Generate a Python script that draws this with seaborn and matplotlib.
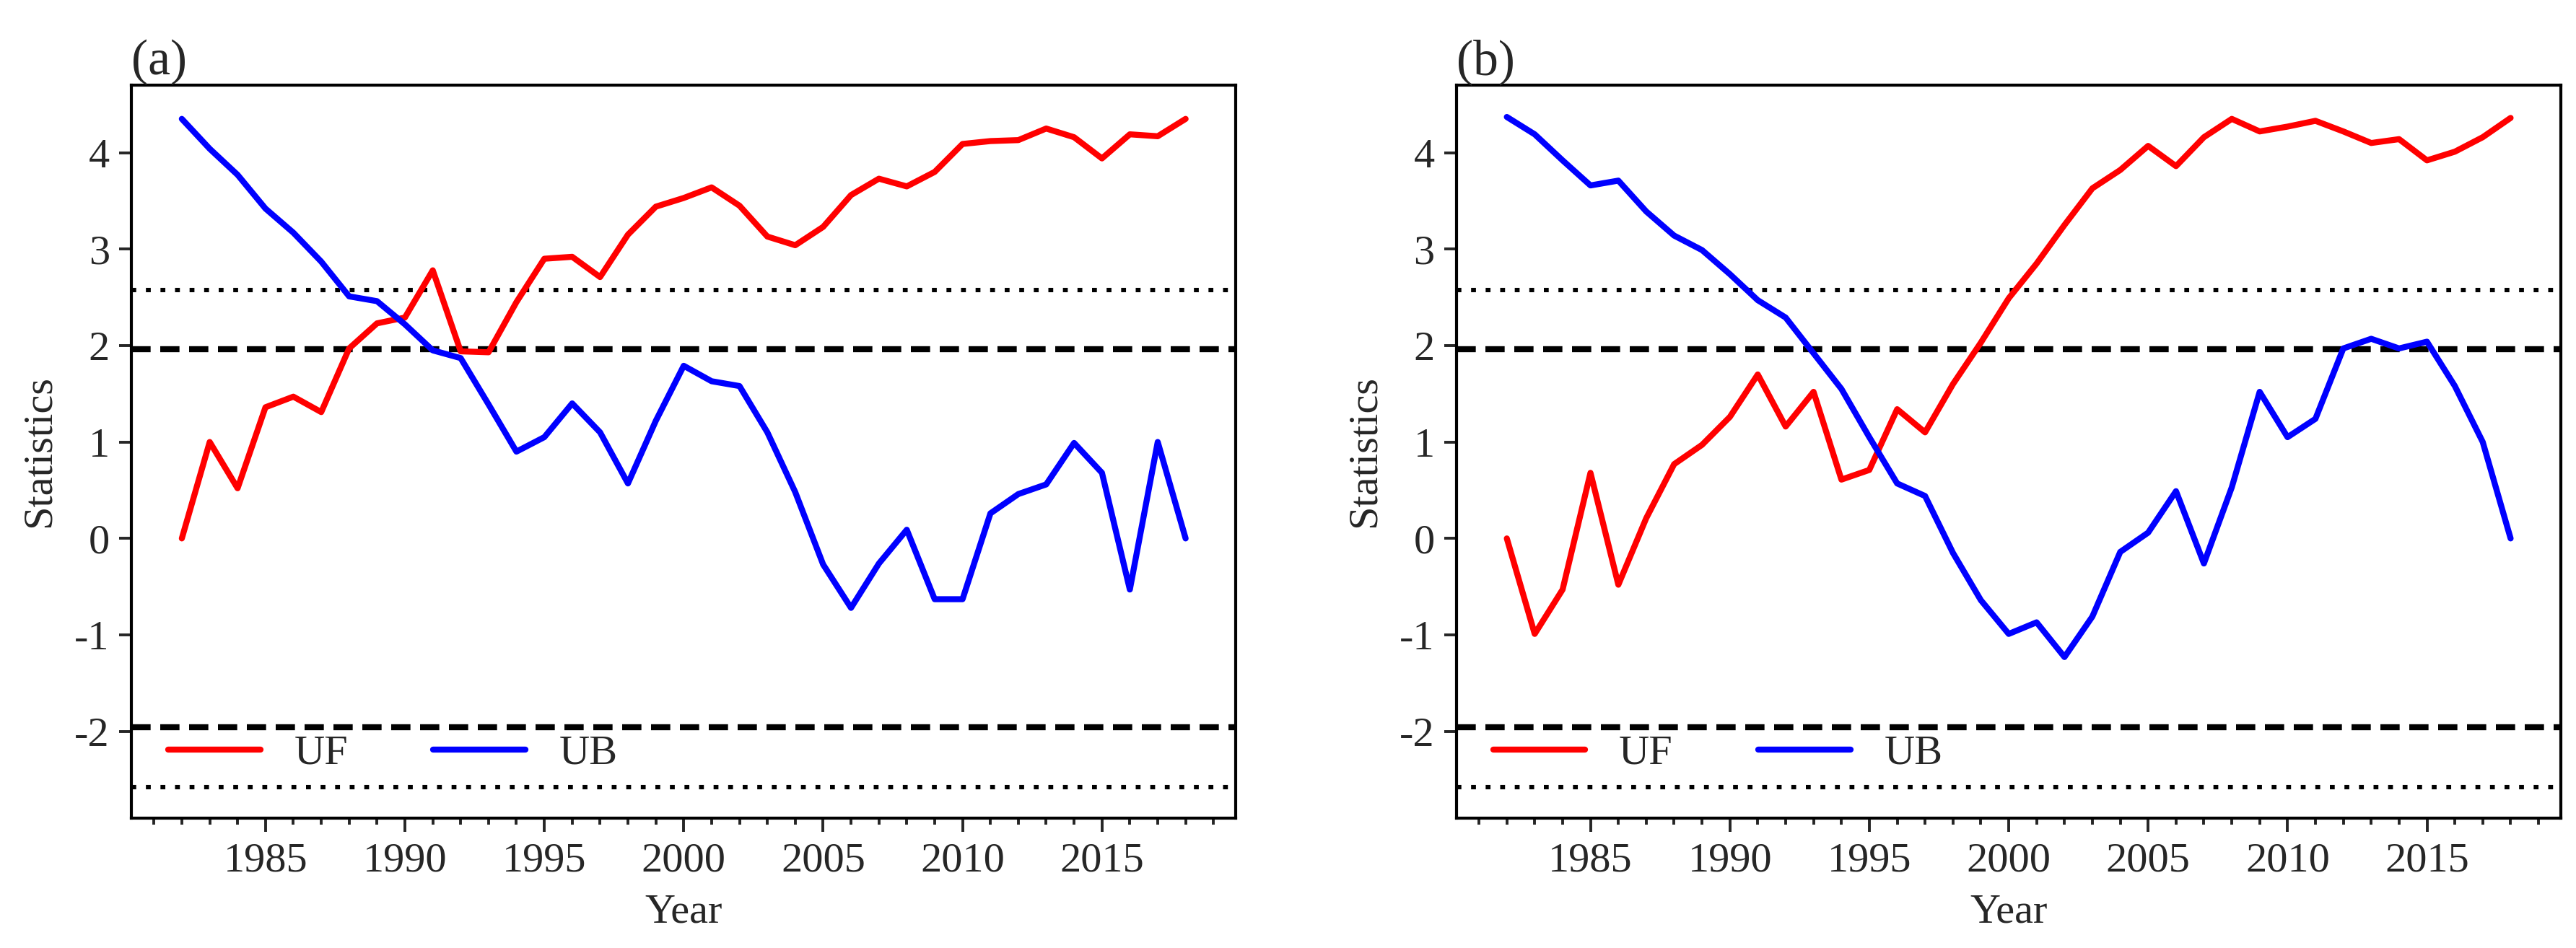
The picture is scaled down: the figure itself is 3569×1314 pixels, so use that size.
import numpy as np
import pandas as pd
import seaborn as sns
import matplotlib.pyplot as plt
from matplotlib.ticker import MultipleLocator

# Mann-Kendall sequential statistics
years = np.arange(1982, 2019)

uf_a = [0.00, 1.00, 0.52, 1.36, 1.47, 1.31, 1.97, 2.23, 2.29, 2.78,
        1.94, 1.93, 2.45, 2.90, 2.92, 2.71, 3.15, 3.44, 3.53, 3.64,
        3.45, 3.13, 3.04, 3.23, 3.56, 3.73, 3.65, 3.80, 4.09, 4.12,
        4.13, 4.25, 4.16, 3.94, 4.19, 4.17, 4.35]
ub_a = [4.35, 4.04, 3.77, 3.42, 3.17, 2.87, 2.51, 2.46, 2.22, 1.95,
        1.87, 1.39, 0.90, 1.05, 1.40, 1.10, 0.57, 1.22, 1.79, 1.63,
        1.58, 1.10, 0.48, -0.27, -0.72, -0.26, 0.09, -0.63, -0.63, 0.26,
        0.46, 0.56, 0.99, 0.68, -0.53, 1.00, 0.00]

uf_b = [0.00, -0.99, -0.53, 0.68, -0.48, 0.21, 0.77, 0.97, 1.26, 1.70,
        1.16, 1.52, 0.61, 0.71, 1.34, 1.10, 1.60, 2.03, 2.49, 2.85,
        3.25, 3.63, 3.82, 4.07, 3.86, 4.16, 4.35, 4.22, 4.27, 4.33,
        4.22, 4.10, 4.14, 3.92, 4.01, 4.16, 4.36]
ub_b = [4.37, 4.19, 3.92, 3.66, 3.71, 3.39, 3.14, 2.99, 2.74, 2.47,
        2.29, 1.92, 1.55, 1.05, 0.57, 0.44, -0.15, -0.64, -0.99, -0.87,
        -1.23, -0.81, -0.14, 0.06, 0.49, -0.26, 0.53, 1.52, 1.05, 1.24,
        1.97, 2.07, 1.97, 2.04, 1.58, 1.00, 0.00]

crit_95 = 1.96
crit_99 = 2.576
panel_labels = ['(a)', '(b)']

sns.set_style('ticks')
plt.rcParams['font.family'] = ['Liberation Serif', 'DejaVu Serif']
plt.rcParams['axes.unicode_minus'] = False
fs = 21

fig, axes = plt.subplots(1, 2, figsize=(17.845, 6.57), dpi=200)
fig.subplots_adjust(left=0.0511, right=0.9941, wspace=0.2,
                    top=0.9102, bottom=0.137)

panels = [(uf_a, ub_a), (uf_b, ub_b)]
for ax, (uf, ub), lab in zip(axes, panels, panel_labels):
    sns.lineplot(x=years, y=uf, color='red', lw=3, label='UF', ax=ax)
    sns.lineplot(x=years, y=ub, color='blue', lw=3, label='UB', ax=ax)
    # significance levels (95% dashed, 99% dotted)
    for c in (crit_95, -crit_95):
        ax.axhline(c, color='black', lw=3, dashes=(3.2, 1.6), zorder=1)
    for c in (crit_99, -crit_99):
        ax.axhline(c, color='black', lw=2.2, dashes=(1.1, 2.2), zorder=1)

    ax.set_xlim(1980.2, 2019.8)
    ax.set_ylim(-2.9, 4.7)
    ax.xaxis.set_major_locator(MultipleLocator(5))
    ax.xaxis.set_minor_locator(MultipleLocator(1))
    ax.yaxis.set_major_locator(MultipleLocator(1))
    ax.tick_params(axis='x', which='major', length=7, width=1.4,
                   labelsize=fs, pad=5, direction='out')
    ax.tick_params(axis='x', which='minor', length=3.4, width=1.4,
                   direction='out')
    ax.tick_params(axis='y', which='major', length=6, width=1.4,
                   labelsize=fs, pad=5, direction='out')
    for sp in ax.spines.values():
        sp.set_linewidth(1.5)
        sp.set_color('black')

    ax.set_xlabel('Year', fontsize=fs, labelpad=7)
    ax.set_ylabel('Statistics', fontsize=fs, labelpad=8)
    ax.set_title(lab, loc='left', fontsize=25, pad=5.5)
    ax.legend(loc='center left', bbox_to_anchor=(0.033, 0.088), ncol=2,
              frameon=False, fontsize=fs, handlelength=2.19,
              handletextpad=0.8, columnspacing=2.03,
              borderpad=0, borderaxespad=0)

fig.savefig('out.png', dpi=200)
